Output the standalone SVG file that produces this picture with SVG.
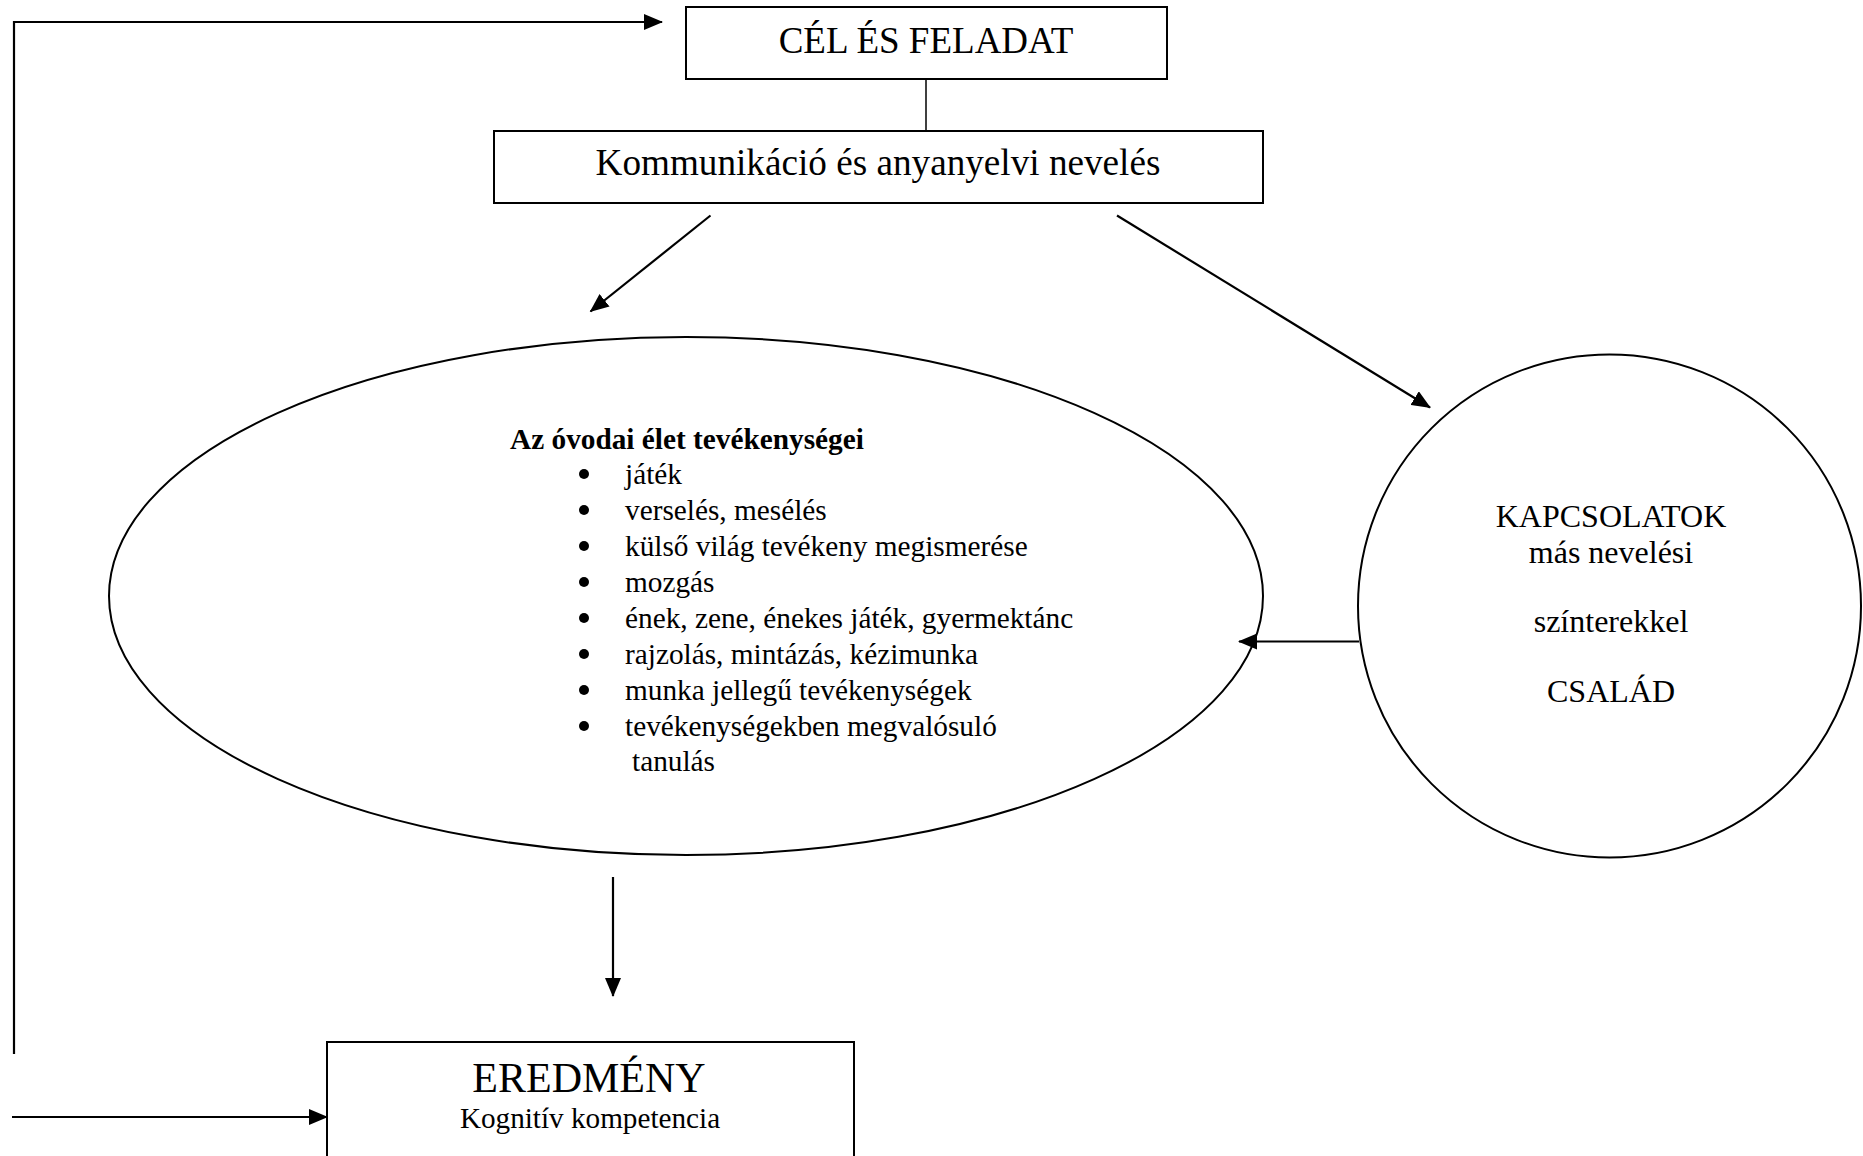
<svg xmlns="http://www.w3.org/2000/svg" width="1863" height="1156" viewBox="0 0 1863 1156">
<style>
.box{fill:#fff;stroke:#000;stroke-width:2}
.shape{fill:none;stroke:#000;stroke-width:2}
.con{fill:none;stroke:#000;stroke-width:2.2}
.t{font-family:"Liberation Serif","Times New Roman",serif;fill:#000}
.mid{text-anchor:middle}
</style>
<defs>
<marker id="ah" markerUnits="userSpaceOnUse" markerWidth="20" markerHeight="16" refX="18" refY="8" orient="auto">
<path d="M0,0 L19,8 L0,16 z" fill="#000"/>
</marker>
</defs>
<rect width="1863" height="1156" fill="#fff"/>
<g id="connectors">
<polyline class="con" points="14,1054 14,22 662,22" marker-end="url(#ah)"/>
<line class="con" x1="12" y1="1117" x2="327" y2="1117" marker-end="url(#ah)"/>
<line class="con" x1="926" y1="79" x2="926" y2="131" style="stroke-width:1.5"/>
<line class="con" x1="710.5" y1="215.5" x2="590.5" y2="311.5" marker-end="url(#ah)"/>
<line class="con" x1="1117" y1="215.5" x2="1430" y2="407.5" marker-end="url(#ah)"/>
<line class="con" x1="1359" y1="641.5" x2="1239" y2="641.5" marker-end="url(#ah)"/>
<line class="con" x1="613" y1="877" x2="613" y2="996" marker-end="url(#ah)"/>
</g>
<g id="cel">
<rect class="box" x="686" y="7" width="481" height="72"/>
<text class="t mid" x="926" y="53" font-size="37">CÉL ÉS FELADAT</text>
</g>
<g id="kommunikacio">
<rect class="box" x="494" y="131" width="769" height="72"/>
<text class="t mid" x="878" y="175" font-size="37.2">Kommunikáció és anyanyelvi nevelés</text>
</g>
<g id="tevekenysegek">
<ellipse class="shape" cx="686" cy="596" rx="577" ry="259"/>
<text class="t" x="510" y="449" font-size="29.3" font-weight="bold">Az óvodai élet tevékenységei</text>
<g class="t" font-size="29.3">
<circle cx="584" cy="474" r="5"/><text x="625" y="484">játék</text>
<circle cx="584" cy="510" r="5"/><text x="625" y="520">verselés, mesélés</text>
<circle cx="584" cy="546" r="5"/><text x="625" y="556">külső világ tevékeny megismerése</text>
<circle cx="584" cy="582" r="5"/><text x="625" y="592">mozgás</text>
<circle cx="584" cy="618" r="5"/><text x="625" y="628">ének, zene, énekes játék, gyermektánc</text>
<circle cx="584" cy="654" r="5"/><text x="625" y="664">rajzolás, mintázás, kézimunka</text>
<circle cx="584" cy="690" r="5"/><text x="625" y="700">munka jellegű tevékenységek</text>
<circle cx="584" cy="726" r="5"/><text x="625" y="736">tevékenységekben megvalósuló</text>
<text x="632" y="771">tanulás</text>
</g>
</g>
<g id="kapcsolatok">
<circle class="shape" cx="1609.5" cy="606" r="251.5"/>
<g class="t mid" font-size="32">
<text x="1611" y="527">KAPCSOLATOK</text>
<text x="1611" y="563">más nevelési</text>
<text x="1611" y="632">színterekkel</text>
<text x="1611" y="702">CSALÁD</text>
</g>
</g>
<g id="eredmeny">
<rect class="box" x="327" y="1042" width="527" height="130"/>
<text class="t mid" x="589" y="1092" font-size="42">EREDMÉNY</text>
<text class="t mid" x="590" y="1128" font-size="29.2">Kognitív kompetencia</text>
</g>
</svg>
